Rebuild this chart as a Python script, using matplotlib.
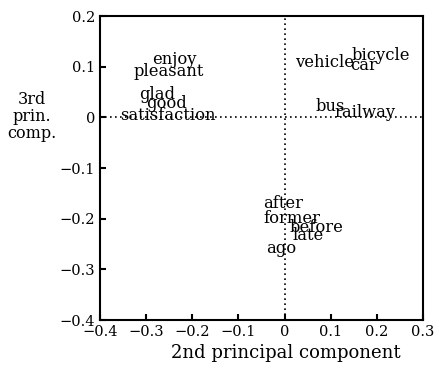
import matplotlib
matplotlib.use("Agg")
import matplotlib.pyplot as plt

words = ["enjoy", "pleasant", "glad", "good", "satisfaction",
         "vehicle", "bicycle", "car", "bus", "railway",
         "after", "former", "before", "late", "ago"]
pc2 = [-0.238, -0.251, -0.277, -0.255, -0.253,
       0.087, 0.209, 0.172, 0.099, 0.175,
       -0.003, 0.016, 0.070, 0.051, -0.008]
pc3 = [0.114, 0.091, 0.045, 0.028, 0.004,
       0.108, 0.122, 0.103, 0.022, 0.010,
       -0.170, -0.199, -0.217, -0.233, -0.258]

xticks = [-0.4, -0.3, -0.2, -0.1, 0, 0.1, 0.2, 0.3]
yticks = [-0.4, -0.3, -0.2, -0.1, 0, 0.1, 0.2]
fmt = lambda v: "0" if v == 0 else f"{v:.1f}".replace("-", "\u2212")

plt.rcParams['font.family'] = ['DejaVu Serif']
fig = plt.figure(figsize=(4.41, 3.68), dpi=100)
ax = fig.add_axes([0.2268, 0.1304, 0.7324, 0.8261])
ax.set_xlim(-0.4, 0.3)
ax.set_ylim(-0.4, 0.2)
ax.axhline(0, color="black", linestyle=(0, (1, 2)), linewidth=1.2)
ax.axvline(0, color="black", linestyle=(0, (1, 2)), linewidth=1.2)
for w, x, y in zip(words, pc2, pc3):
    ax.text(x, y, w, ha="center", va="center", fontsize=11.8)
ax.set_xticks(xticks)
ax.set_xticklabels([fmt(v) for v in xticks], fontsize=10.5)
ax.set_yticks(yticks)
ax.set_yticklabels([fmt(v) for v in yticks], fontsize=10.5)
ax.tick_params(direction="in", length=4, width=1.5, top=False, right=False)
for s in ax.spines.values():
    s.set_linewidth(1.5)
fig.text(286 / 441, 1 - 353 / 368, "2nd principal component", ha="center",
         va="center", fontsize=13)
fig.text(32 / 441, 1 - 116 / 368, "3rd\nprin.\ncomp.", ha="center", va="center",
         fontsize=11.5, linespacing=1.0)
fig.savefig("out.png", dpi=100)
